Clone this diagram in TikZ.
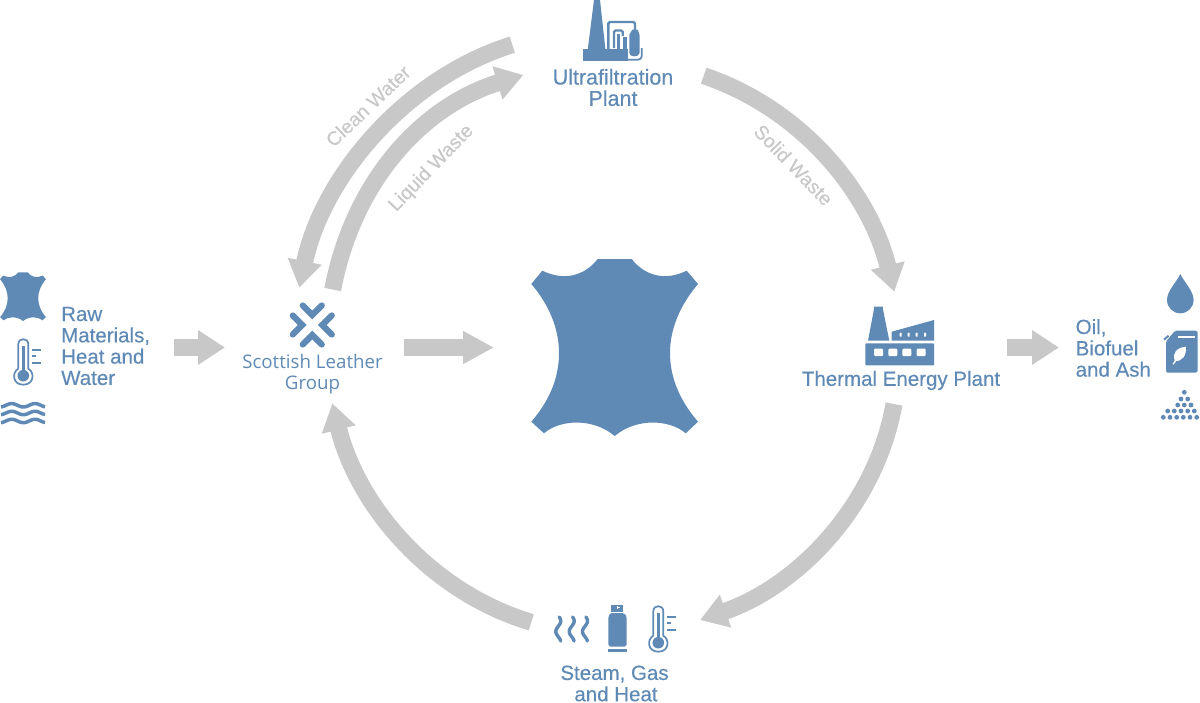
\documentclass[tikz,border=0pt]{standalone}
\usepackage{fontspec}
\setmainfont[FakeBold=0.35]{Liberation Sans}
\newfontfamily\logofont{Open Sans}
\usetikzlibrary{arrows.meta}
\definecolor{hide}{HTML}{5F8AB5}
\definecolor{flowgrey}{HTML}{C8C8C8}
\tikzset{
  flow/.style={draw=flowgrey,line width=17pt,-{Triangle[length=27pt,width=33pt,fill=flowgrey]}},
  bluetext/.style={text=hide,inner sep=0pt,font=\fontsize{20.5}{21.3}\selectfont},
  greytext/.style={text=flowgrey,inner sep=0pt,font=\fontsize{19.5}{21}\selectfont},
  logotext/.style={text=hide,inner sep=0pt,align=center,font=\logofont\fontsize{18.7}{21}\selectfont},
  icon/.style={fill=hide,draw=none},
  iconline/.style={draw=hide,fill=none,line width=2pt},
}
\newcommand{\hidepath}{
  (-17,-88.5) -- (17,-88.5) .. controls (30,-72) and (50,-66) .. (72,-76.8)
  -- (83.3,-63.5) .. controls (65,-42) and (55.3,-18) .. (55.3,5.5)
  .. controls (55.3,30) and (65,53) .. (83.3,74.2)
  -- (71,85.8) .. controls (55,72) and (22,70) .. (0,88.5)
  .. controls (-22,70) and (-55,72) .. (-70.7,85.8)
  -- (-83.4,74.2) .. controls (-65,53) and (-55.7,30) .. (-55.7,5.5)
  .. controls (-55.7,-18) and (-65,-42) .. (-83.4,-63.5)
  -- (-72.4,-76.8) .. controls (-50,-66) and (-30,-72) .. (-17,-88.5) -- cycle}
\newcommand{\thermo}[2]{
  \begin{scope}[shift={(#1,#2)}]
    \draw[iconline,line width=1.7pt] (-5,-7) -- (-5,-31.5) .. controls (-5,-38.2) and (5,-38.2) .. (5,-31.5) -- (5,-7)
      .. controls (11.5,-3.5) and (11,9) .. (0,9) .. controls (-11,9) and (-11.5,-3.5) .. (-5,-7);
    \fill[icon] (0,0) circle[radius=5.8];
    \fill[icon] (-1.6,-30) rectangle (1.6,-2);
    \draw[iconline,line width=1.8pt] (8.4,-25.7) -- (17.5,-25.7) (8.4,-19.4) -- (13,-19.4) (8.4,-12.9) -- (17.5,-12.9);
  \end{scope}}
\begin{document}
\begin{tikzpicture}[x=1pt,y=-1pt]
\useasboundingbox (0,0) rectangle (1200,702);

% ---- named text nodes
\node[bluetext,anchor=west,align=left] (raw) at (61,346) {Raw\\Materials,\\Heat and\\Water};
\node[logotext] (slg) at (312.5,374) {Scottish Leather\\Group};
\node[bluetext,align=center,font=\fontsize{21.5}{21.3}\selectfont] (ultra) at (613,87.5) {Ultrafiltration\\Plant};
\node[bluetext] (thermal) at (901,380.5) {Thermal Energy Plant};
\node[bluetext,anchor=west,align=left] (oil) at (1075.5,348) {Oil,\\Biofuel\\and Ash};
\node[bluetext,align=center] (steam) at (614.5,683.5) {Steam, Gas\\\hspace*{3pt}and Heat};

\node[greytext,rotate=43.5] (clean) at (368,106) {Clean Water};
\node[greytext,rotate=46] (liquid) at (431.5,168.5) {Liquid Waste};
\node[greytext,rotate=-46] (solid) at (793.5,165) {Solid Waste};

% ---- connector end points
\coordinate (cleanA) at (512.3,44.7);   \coordinate (cleanB) at (299.3,287.7);
\coordinate (liqA)   at (332.7,289.5);  \coordinate (liqB)   at (523.3,75);
\coordinate (solA)   at (703.7,75.7);   \coordinate (solB)   at (894.3,291.7);
\coordinate (botA)   at (894,404);      \coordinate (botB)   at (700,620);
\coordinate (retA)   at (531.3,622.3);  \coordinate (retB)   at (332.3,403.3);
\coordinate (inA)    at (174,347.5);    \coordinate (inB)    at (225,347.5);
\coordinate (midA)   at (404,347.5);    \coordinate (midB)   at (494,347.5);
\coordinate (outA)   at (1007,347.5);   \coordinate (outB)   at (1059,347.5);

\draw[flow] (cleanA) .. controls (405,78) and (322,178) .. (cleanB);
\draw[flow] (liqA) .. controls (354,178) and (425,105) .. (liqB);
\draw[flow] (solA) .. controls (801.5,108.7) and (869.3,191.7) .. (solB);
\draw[flow] (botA) .. controls (876,506) and (798,586) .. (botB);
\draw[flow] (retA) .. controls (430,592) and (357.6,505.6) .. (retB);
\draw[flow] (inA) -- (inB);
\draw[flow,-{Triangle[length=31pt,width=31pt,fill=flowgrey]}] (midA) -- (midB);
\draw[flow] (outA) -- (outB);

% ---- central hide and small hide
\fill[icon,shift={(614.7,347.5)}] \hidepath;
\begin{scope}[shift={(23,296.7)},scale=.275]
  \fill[icon] \hidepath;
\end{scope}

% ---- thermometers
\thermo{23.3}{375.7}
\thermo{658.3}{642.7}

% ---- water
\foreach \yy in {405.3,413,421}
  \draw[draw=hide,line width=3.5pt] plot[domain=1:45,samples=45,smooth] (\x,{\yy-1.7*cos((\x-11.7)*360/23.3)});

% ---- logo
\begin{scope}[shift={(312.3,325)},draw=hide,line width=6.2pt,line cap=round]
  \draw (-9.5,-19.5) -- (0,-10) -- (9.5,-19.5);
  \draw (-9.5,19.5) -- (0,10) -- (9.5,19.5);
  \draw (-19.5,-9.5) -- (-10,0) -- (-19.5,9.5);
  \draw (19.5,-9.5) -- (10,0) -- (19.5,9.5);
\end{scope}

% ---- ultrafiltration plant
\fill[icon] (594,0) -- (600,0) -- (605.5,50) -- (587.7,50) -- cycle;
\fill[icon] (582.7,49) rectangle (628,60.7);
\draw[iconline,line width=2.4pt,rounded corners=1.5pt] (608.3,50) -- (608.3,22) -- (635,22) -- (635,31);
\draw[iconline,line width=2.4pt,rounded corners=1.5pt] (614,48) -- (614,30.5) -- (622.7,30.5) -- (622.7,36);
\fill[icon] (616.5,34) rectangle (620.3,50);
\fill[icon] (622.7,37) rectangle (626.7,50);
\fill[icon] (632.5,29.5) -- (637.5,29.5) .. controls (638,32) and (639.5,32.5) .. (639.5,35) -- (639.5,53)
  .. controls (639.5,57.5) and (629.3,57.5) .. (629.3,53) -- (629.3,35) .. controls (629.3,32.5) and (632,32) .. (632.5,29.5) -- cycle;
\draw[iconline,line width=1.8pt] (641.8,48) -- (641.8,55) .. controls (641.8,58.5) and (640,59.8) .. (636,59.8) -- (626,59.8);

% ---- thermal energy plant
\fill[icon] (873.5,306.7) -- (883,306.7) -- (882.7,308) -- (889.3,340.7) -- (868,340.7) -- (874.2,308) -- cycle;
\fill[icon] (891.7,331.7) -- (934,320) -- (934,340.7) -- (891.7,340.7) -- cycle;
\fill[icon,rounded corners=.8pt] (865.3,343.3) rectangle (934,365.3);
\foreach \wx in {900.7,908.7,916.7,925}
  \fill[white,rounded corners=.6pt] (\wx-1,332.7) rectangle (\wx+1,336.7);
\foreach \wx in {874,888.3,902.3,916.7}
  \fill[white,rounded corners=1pt] (\wx,348.7) rectangle (\wx+9,356);

% ---- oil drop
\fill[icon] (1180.3,274) .. controls (1184,282) and (1193.6,291) .. (1193.6,300)
  .. controls (1193.6,307.5) and (1187.6,313.3) .. (1180.3,313.3)
  .. controls (1173,313.3) and (1167,307.5) .. (1167,300)
  .. controls (1167,291) and (1176.6,282) .. (1180.3,274) -- cycle;

% ---- jerry can
\fill[icon,rounded corners=1.5pt] (1175,330.7) -- (1197.5,330.7) -- (1197.5,372.7) -- (1166,372.7) -- (1166,341.5) -- cycle;
\draw[iconline,line width=2pt] (1164,339.6) -- (1168.6,335.8);
\fill[white] (1178.3,336) rectangle (1195,338);
\fill[white] (1186,346.7) .. controls (1177,347.5) and (1171.5,353) .. (1175,361)
  .. controls (1182,361.5) and (1186.5,356) .. (1186,346.7) -- cycle;
\draw[white,line width=1.4pt,line cap=round] (1173.3,364) -- (1179,355.5);

% ---- ash
\foreach \px/\py in {1184.3/392.3,
  1181/399,1187.7/399,
  1177.7/405,1184.3/405,1191/405,
  1167.7/411,1174.3/411,1181/411,1187.7/411,1194.3/411,
  1163.3/417.3,1170/417.3,1176.7/417.3,1183.3/417.3,1190/417.3,1196.7/417.3}
  \fill[icon] (\px,\py) circle[radius=2.4];

% ---- steam
\foreach \sx in {558.3,571.7,585}
  \draw[draw=hide,line width=3.4pt,line cap=round] plot[domain=617:641,samples=30,smooth] ({\sx+2.5*cos((\x-621)*360/21)},\x);

% ---- gas cylinder
\fill[icon] (611,605) rectangle (623.3,611.7);
\fill[white] (616.5,606) rectangle (618,609);
\fill[white] (616.5,607.2) rectangle (620,608.4);
\fill[icon] (611.5,613) -- (622.5,613) .. controls (625,614) and (626.7,615) .. (626.7,618) -- (626.7,644.5) -- (625,646.5) -- (610,646.5) -- (608.3,644.5) -- (608.3,618) .. controls (608.3,615) and (610,614) .. (611.5,613) -- cycle;
\fill[icon] (608.3,649) rectangle (626.7,651.7);
\end{tikzpicture}
\end{document}
